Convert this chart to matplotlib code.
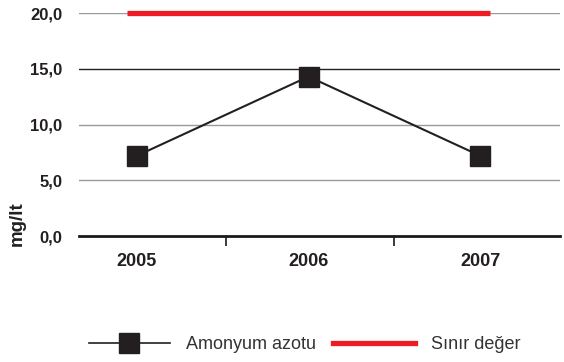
import numpy as np
import matplotlib.pyplot as plt
from matplotlib.lines import Line2D

years = ["2005", "2006", "2007"]
amonyum = [7.2, 14.3, 7.2]
sinir = 20.0
yticks = [0, 5, 10, 15, 20]

plt.rcParams['font.family'] = ['Liberation Sans', 'DejaVu Sans']

fig = plt.figure(figsize=(5.64, 3.62), dpi=100)
ax = fig.add_axes([0.140, 0.348, 0.853, 0.616])

x = np.arange(len(years))

# gridlines
for v in yticks[1:]:
    col = '#222222' if v == 15 else '#999999'
    ax.axhline(v, color=col, lw=1.0, zorder=1)
ax.axhline(0, color='#1a1a1a', lw=2.0, zorder=2, clip_on=False)

# limit value line
ax.plot([x[0] - 0.058, x[-1] + 0.058], [sinir, sinir], color='#ed1c24',
        lw=3.8, solid_capstyle='butt', zorder=3, clip_on=False)

ax.plot(x, amonyum, color='#231f20', lw=1.5, marker='s', markersize=14,
        zorder=4, clip_on=False)

ax.set_xlim(-0.338, 2.466)
ax.set_ylim(0, 20)

for s in ax.spines.values():
    s.set_visible(False)

ax.set_yticks(yticks)
ax.set_yticklabels([f"{v:.1f}".replace('.', ',') for v in yticks],
                   fontsize=12, fontweight='bold', color='#231f20')
ax.tick_params(axis='y', length=0, pad=12)

ax.set_xticks(x)
ax.set_xticklabels(years, fontsize=13, fontweight='bold', color='#231f20')
ax.tick_params(axis='x', which='major', length=0, pad=12)
ax.set_xticks([0.52, 1.5], minor=True)
ax.tick_params(axis='x', which='minor', length=7, width=1.2, color='#1a1a1a')

ax.set_ylabel('mg/lt', fontsize=13.5, fontweight='bold', color='#231f20')
ax.yaxis.set_label_coords(-0.11, 0.056)

handles = [
    Line2D([], [], color='#231f20', lw=1.2, marker='s', markersize=14),
    Line2D([], [], color='#ed1c24', lw=3.8),
]
fig.legend(handles, ['Amonyum azotu', 'Sınır değer'], loc='center',
           bbox_to_anchor=(0.54, 0.047), ncol=2, frameon=False,
           fontsize=13, handlelength=4.5, handletextpad=0.9,
           columnspacing=0.95, labelcolor='#333333')

fig.savefig('out.png', dpi=100)
